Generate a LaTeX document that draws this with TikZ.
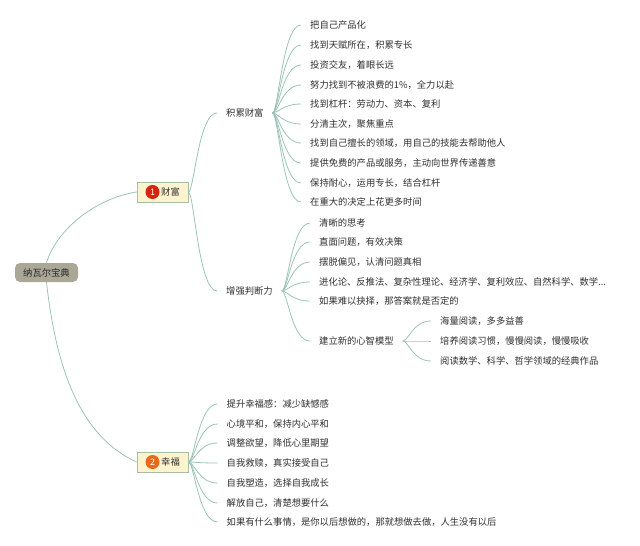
\documentclass[tikz,border=0pt]{standalone}
\usepackage{fontspec}
\setmainfont{Noto Sans CJK SC}
\usetikzlibrary{calc}
\definecolor{linkc}{HTML}{9CC4B8}
\definecolor{txtc}{HTML}{303030}
\definecolor{rootc}{HTML}{ABA797}
\definecolor{boxc}{HTML}{FDF4CF}
\definecolor{boxl}{HTML}{A5BFA0}
\definecolor{badgeA}{HTML}{D9230F}
\definecolor{badgeB}{HTML}{E8681C}
\newcommand{\linkit}[2]{\draw[link] let \p1=(#1.east),\p2=(#2.west),\n1={\x2-\x1} in (#1.east) .. controls +(0.2*\n1,0) and +(-0.65*\n1,0) .. (#2.west);}
\tikzset{
  lbl/.style={anchor=west,inner xsep=9pt,inner ysep=1pt,text=txtc,font=\fontsize{9.3}{11}\selectfont},
  link/.style={draw=linkc,line width=0.8pt},
  rootnode/.style={fill=rootc,rounded corners=5pt,minimum width=63pt,minimum height=19pt,inner sep=0pt,text=black!85,font=\fontsize{9.3}{11}\selectfont},
  topicbox/.style={fill=boxc,draw=boxl,line width=0.8pt,minimum width=51pt,minimum height=20pt,inner sep=0pt},
  badge/.style={circle,minimum size=14pt,inner sep=0pt,text=white,font=\fontsize{9}{10}\selectfont},
  boxtext/.style={inner sep=0pt,text=txtc,font=\fontsize{9.3}{11}\selectfont},
}
\begin{document}
\begin{tikzpicture}[x=1pt,y=-1pt]
\useasboundingbox (0,0) rectangle (640,546);
\fill[white] (0,0) rectangle (640,546);
\node[rootnode] (root) at (46.5,272.5) {纳瓦尔宝典};
\node[topicbox] (wealth) at (162.5,192) {};
\node[badge,fill=badgeA] (b1) at (152.5,192) {1};
\node[boxtext,anchor=west] (t1) at (161,192) {财富};
\node[topicbox] (happy) at (162.5,462) {};
\node[badge,fill=badgeB] (b2) at (152.5,462) {2};
\node[boxtext,anchor=west] (t2) at (161,462) {幸福};
% level 2
\node[lbl] (accum) at (217,113) {积累财富};
\node[lbl] (judge) at (217,291) {增强判断力};
% accumulate
\node[lbl] (a1) at (301,25) {把自己产品化};
\node[lbl] (a2) at (301,45) {找到天赋所在，积累专长};
\node[lbl] (a3) at (301,65) {投资交友，着眼长远};
\node[lbl] (a4) at (301,85) {努力找到不被浪费的1\%，全力以赴};
\node[lbl] (a5) at (301,104) {找到杠杆：劳动力、资本、复利};
\node[lbl] (a6) at (301,124) {分清主次，聚焦重点};
\node[lbl] (a7) at (301,143) {找到自己擅长的领域，用自己的技能去帮助他人};
\node[lbl] (a8) at (301,163) {提供免费的产品或服务，主动向世界传递善意};
\node[lbl] (a9) at (301,183) {保持耐心，运用专长，结合杠杆};
\node[lbl] (a10) at (301,202) {在重大的决定上花更多时间};
% judge
\node[lbl] (j1) at (310,223) {清晰的思考};
\node[lbl] (j2) at (310,242) {直面问题，有效决策};
\node[lbl] (j3) at (310,262) {摆脱偏见，认清问题真相};
\node[lbl] (j4) at (310,282) {进化论、反推法、复杂性理论、经济学、复利效应、自然科学、数学...};
\node[lbl] (j5) at (310,301) {如果难以抉择，那答案就是否定的};
\node[lbl] (j6) at (310,341) {建立新的心智模型};
\node[lbl] (m1) at (431,321) {海量阅读，多多益善};
\node[lbl] (m2) at (431,341) {培养阅读习惯，慢慢阅读，慢慢吸收};
\node[lbl] (m3) at (431,361) {阅读数学、科学、哲学领域的经典作品};
% happy
\node[lbl] (h1) at (217.5,404) {提升幸福感：减少缺憾感};
\node[lbl] (h2) at (217.5,424) {心境平和，保持内心平和};
\node[lbl] (h3) at (217.5,443) {调整欲望，降低心里期望};
\node[lbl] (h4) at (217.5,463) {自我救赎，真实接受自己};
\node[lbl] (h5) at (217.5,483) {自我塑造，选择自我成长};
\node[lbl] (h6) at (217.5,503) {解放自己，清楚想要什么};
\node[lbl] (h7) at (217.5,522) {如果有什么事情，是你以后想做的，那就想做去做，人生没有以后};
% connectors
\draw[link] (root.north) .. controls +(12,-38) and +(-35,5) .. (wealth.west);
\draw[link] (root.south) .. controls +(10,90) and +(-55,-25) .. (happy.west);
\foreach \k in {accum,judge}{\linkit{wealth}{\k}}
\foreach \k in {a1,a2,a3,a4,a5,a6,a7,a8,a9,a10}{\linkit{accum}{\k}}
\foreach \k in {j1,j2,j3,j4,j5,j6}{\linkit{judge}{\k}}
\foreach \k in {m1,m2,m3}{\linkit{j6}{\k}}
\foreach \k in {h1,h2,h3,h4,h5,h6,h7}{\linkit{happy}{\k}}
\end{tikzpicture}
\end{document}
